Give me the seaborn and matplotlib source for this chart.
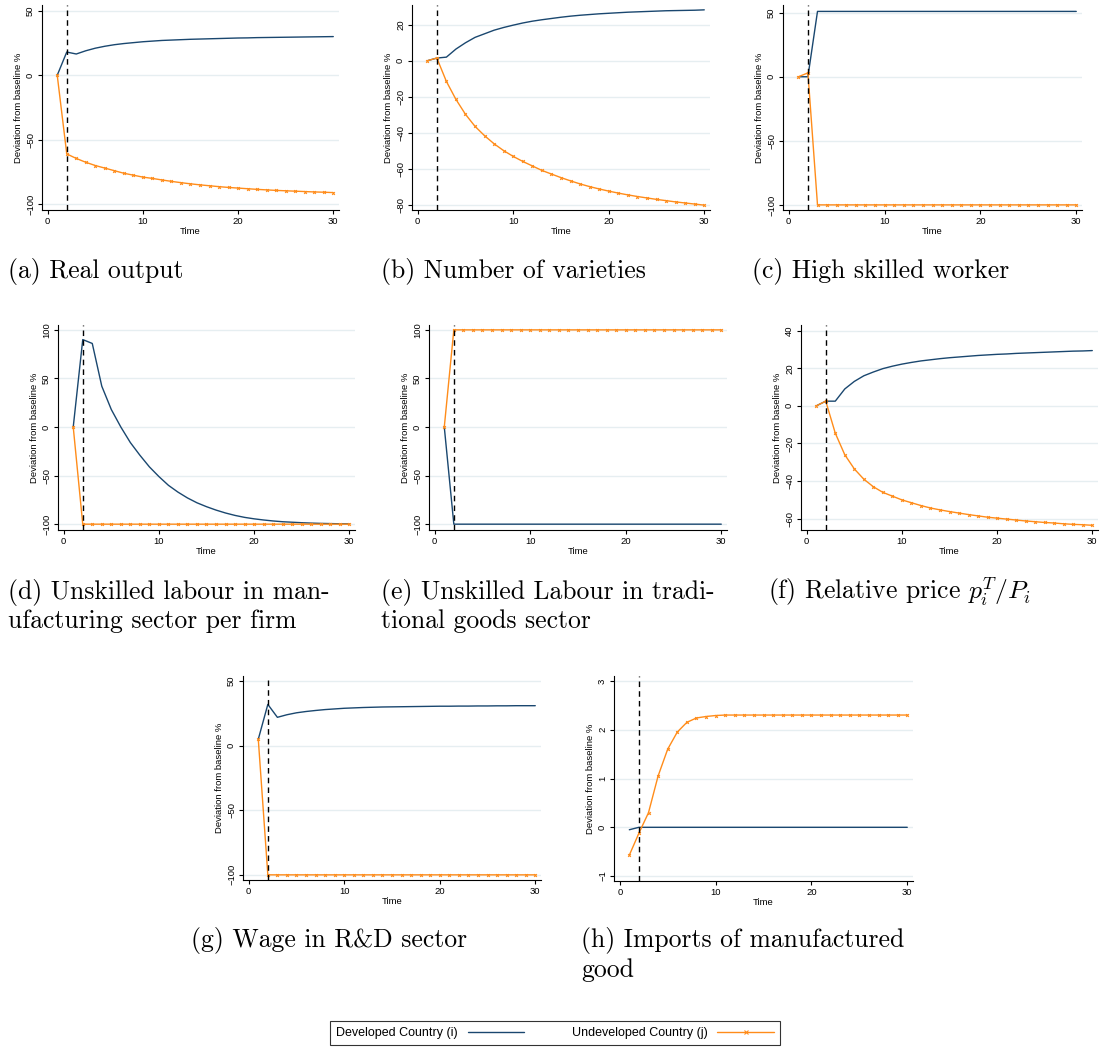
import numpy as np
import pandas as pd
import matplotlib
matplotlib.use('Agg')
from matplotlib import pyplot as plt
from matplotlib.lines import Line2D
import seaborn as sns

# time periods of the simulation
time = list(range(1, 31))

# (a) Real output
real_out_dev = [0, 18, 16.5, 19, 21, 22.5, 23.7, 24.6, 25.3, 26, 26.5, 27, 27.3, 27.6, 27.9,
                28.1, 28.3, 28.5, 28.7, 28.9, 29, 29.2, 29.3, 29.4, 29.5, 29.6, 29.7, 29.8, 29.9, 30]
real_out_und = [0, -61, -64.5, -67.5, -70, -72, -74, -76, -77.5, -79, -80, -81.2, -82.3, -83.3, -84.2,
                -85, -85.7, -86.4, -87, -87.5, -88, -88.5, -88.9, -89.3, -89.6, -89.9, -90.2, -90.5, -90.7, -91]
# (b) Number of varieties
varieties_dev = [0, 1.5, 2, 6.5, 10, 13, 15, 17, 18.5, 19.8, 21, 22, 22.8, 23.5, 24.2,
                 24.8, 25.3, 25.7, 26.1, 26.4, 26.7, 27, 27.2, 27.4, 27.6, 27.8, 27.9, 28, 28.1, 28.3]
varieties_und = [0, 1.5, -11.5, -21.5, -29.8, -36.5, -41.7, -46.2, -50, -53.2, -56, -58.5, -61, -63, -65,
                 -66.8, -68.5, -70, -71.3, -72.5, -73.6, -74.6, -75.5, -76.3, -77.1, -77.8, -78.5, -79.1, -79.7, -80.3]
# (c) High skilled worker
high_dev = [0, 0] + [51] * 28
high_und = [0, 3] + [-100] * 28
# (d) Unskilled labour in manufacturing per firm
unsk_man_dev = [0, 90, 86, 42, 18, 0, -16, -29, -41, -51, -60, -67, -73, -78, -82,
                -85.5, -88.5, -91, -93, -94.5, -95.7, -96.7, -97.5, -98, -98.5, -98.9, -99.2, -99.4, -99.6, -99.7]
unsk_man_und = [0] + [-100] * 29
# (e) Unskilled labour in traditional goods
unsk_trad_dev = [0] + [-100] * 29
unsk_trad_und = [0] + [100] * 29
# (f) Relative price
price_dev = [0, 2.5, 2.5, 9, 13, 16, 18, 19.8, 21.1, 22.2, 23.1, 23.9, 24.5, 25.1, 25.6,
             26, 26.4, 26.8, 27.1, 27.4, 27.6, 27.9, 28.1, 28.3, 28.5, 28.7, 28.9, 29.1, 29.2, 29.4]
price_und = [0, 2.5, -14.5, -26, -33.5, -39, -43, -46, -48, -50, -51.5, -53, -54.3, -55.3, -56.2,
             -57, -57.8, -58.5, -59.2, -59.7, -60.2, -60.7, -61.2, -61.6, -62, -62.3, -62.7, -63, -63.2, -63.5]
# (g) Wage in R&D sector
wage_dev = [5, 32, 22, 24, 25.5, 26.5, 27.3, 28, 28.5, 29, 29.3, 29.6, 29.8, 30, 30.1,
            30.2, 30.3, 30.4, 30.5, 30.6, 30.6, 30.7, 30.7, 30.8, 30.8, 30.9, 30.9, 31, 31, 31]
wage_und = [5] + [-100] * 29
# (h) Imports of manufactured good
imports_dev = [-0.05] + [0] * 29
imports_und = [-0.57, -0.12, 0.3, 1.05, 1.6, 1.95, 2.15, 2.24, 2.27, 2.29] + [2.3] * 20

dev_color = '#1a476f'
und_color = '#ff8c1a'
grid_color = '#e6eef1'

sns.set_style('ticks')
plt.rcParams['font.family'] = ['Liberation Sans', 'DejaVu Sans']
plt.rcParams['mathtext.fontset'] = 'cm'
plt.rcParams['text.color'] = 'black'
plt.rcParams['axes.labelcolor'] = 'black'
plt.rcParams['xtick.color'] = 'black'
plt.rcParams['ytick.color'] = 'black'
plt.rcParams['axes.edgecolor'] = 'black'

W, H = 1101, 1050
fig = plt.figure(figsize=(W / 100, H / 100), dpi=100)

# panel boxes in pixels: left, top, right, bottom, y-limits, y-ticks, dev, und
panels = [
    (42, 5, 339, 210, (-104.5, 54.5), [-100, -50, 0, 50], real_out_dev, real_out_und),
    (412, 5, 710, 210, (-83, 31), [-80, -60, -40, -20, 0, 20], varieties_dev, varieties_und),
    (783, 5, 1082, 210, (-104, 56), [-100, -50, 0, 50], high_dev, high_und),
    (58, 325, 355, 530, (-106, 105), [-100, -50, 0, 50, 100], unsk_man_dev, unsk_man_und),
    (429, 325, 727, 530, (-106, 105), [-100, -50, 0, 50, 100], unsk_trad_dev, unsk_trad_und),
    (801, 325, 1098, 530, (-66, 43), [-60, -40, -20, 0, 20, 40], price_dev, price_und),
    (243, 676, 541, 880, (-104, 54), [-100, -50, 0, 50], wage_dev, wage_und),
    (614, 676, 913, 881, (-1.1, 3.1), [-1, 0, 1, 2, 3], imports_dev, imports_und),
]

for left, top, right, bottom, ylim, yticks, dev, und in panels:
    ax = fig.add_axes([left / W, 1 - bottom / H, (right - left) / W, (bottom - top) / H])
    for t in yticks:
        ax.axhline(t, color=grid_color, lw=1.0, zorder=0)
    sns.lineplot(x=time, y=dev, ax=ax, color=dev_color, lw=1.0)
    sns.lineplot(x=time, y=und, ax=ax, color=und_color, lw=1.0, marker='x',
                 markersize=2, markeredgewidth=0.8, markeredgecolor=und_color)
    ax.axvline(2, color='black', lw=1.0, linestyle=(0, (4, 3)))
    ax.set_xlim(-0.6, 30.6)
    ax.set_ylim(ylim)
    ax.set_xticks([0, 10, 20, 30])
    ax.set_yticks(yticks)
    ax.tick_params(labelsize=6.8, length=3, width=0.8, pad=2)
    for lab in ax.get_yticklabels():
        lab.set_rotation(90)
        lab.set_va('center')
    ax.set_xlabel('Time', fontsize=6.8, labelpad=1)
    ax.set_ylabel('Deviation from baseline %', fontsize=6.8, labelpad=2)
    sns.despine(ax=ax)
    for s in ['left', 'bottom']:
        ax.spines[s].set_linewidth(0.8)

# subfigure captions
cap_font = dict(fontsize=18.5, family='cmr10', va='center', ha='left', color='black')
captions = [
    (8, 271, '(a) Real output'),
    (381, 271, '(b) Number of varieties'),
    (752, 271, '(c) High skilled worker'),
    (8, 592, '(d) Unskilled labour in man-'),
    (8, 621, 'ufacturing sector per firm'),
    (381, 592, '(e) Unskilled Labour in tradi-'),
    (381, 621, 'tional goods sector'),
    (768, 592, '(f) Relative price $p_i^T/P_i$'),
    (191, 941, '(g) Wage in R&D sector'),
    (581, 941, '(h) Imports of manufactured'),
    (581, 970, 'good'),
]
for x, y, txt in captions:
    fig.text(x / W, 1 - y / H, txt, **cap_font)

handles = [
    Line2D([], [], color=dev_color, lw=1.0),
    Line2D([], [], color=und_color, lw=1.0, marker='x', markersize=2.5, markevery=[1],
           markeredgewidth=0.8),
]
leg = fig.legend(handles, ['Developed Country (i)', 'Undeveloped Country (j)'],
                 loc='center', bbox_to_anchor=(555 / W, 1 - 1033 / H), ncol=2,
                 markerfirst=False, frameon=True, fancybox=False, fontsize=9,
                 handlelength=4.5, columnspacing=3.8, borderpad=0.5)
leg.get_frame().set_edgecolor('black')
leg.get_frame().set_linewidth(0.8)

plt.savefig('out.png', dpi=100)
